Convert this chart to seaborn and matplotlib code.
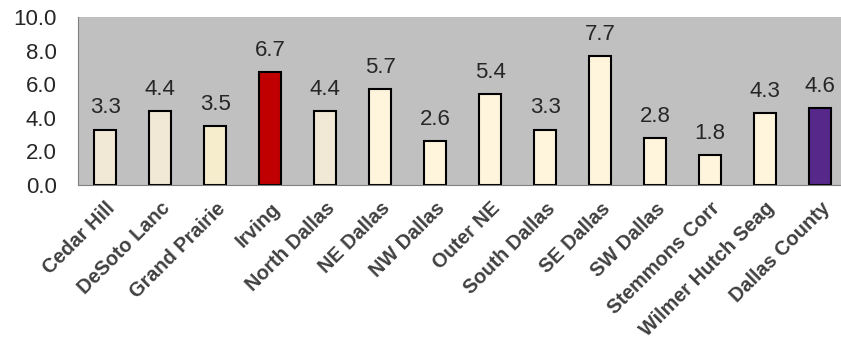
import pandas as pd
import matplotlib.pyplot as plt
import seaborn as sns

# datos
areas = ['Cedar Hill', 'DeSoto Lanc', 'Grand Prairie', 'Irving', 'North Dallas',
         'NE Dallas', 'NW Dallas', 'Outer NE', 'South Dallas', 'SE Dallas',
         'SW Dallas', 'Stemmons Corr', 'Wilmer Hutch Seag', 'Dallas County']
values = [3.3, 4.4, 3.5, 6.7, 4.4, 5.7, 2.6, 5.4, 3.3, 7.7, 2.8, 1.8, 4.3, 4.6]
colors = ['#F1E9D5', '#F1E9D5', '#F5EDCB', '#C00000', '#F1E9D5', '#FFF4DC',
          '#FFF4DC', '#FFF4DC', '#FFF4DC', '#FFF4DC', '#FFF4DC', '#FFF4DC',
          '#FFF4DC', '#562889']

data = pd.DataFrame({'area': areas, 'value': values})

sns.set_style('white')
plt.rcParams['font.family'] = ['Liberation Sans', 'DejaVu Sans']

fig = plt.figure(figsize=(8.41, 3.47), dpi=100)
ax = fig.add_axes([77.7 / 841, 1 - 185 / 347, 770 / 841, 168 / 347])
ax.set_facecolor('#C0C0C0')

sns.barplot(x='area', y='value', data=data, hue='area', palette=colors,
            legend=False, width=0.41, edgecolor='black', linewidth=1.5,
            saturation=1, ax=ax)

# etiquetas de valor
for i, v in enumerate(values):
    ax.annotate(f'{v:.1f}', (i, v), xytext=(0, 8), textcoords='offset points',
                ha='center', va='bottom', fontsize=16)

ax.set_ylim(0, 10)
ax.set_xlim(-0.5, len(areas) - 0.5)
ax.set_yticks([0, 2, 4, 6, 8, 10])
ax.set_yticklabels([f'{t:.1f}' for t in [0, 2, 4, 6, 8, 10]], fontsize=16)
ax.set_xticks([i + 0.5 for i in range(-1, len(areas))], minor=True)
ax.set_xticks(range(len(areas)))
ax.set_xticklabels(areas, rotation=45, ha='right', rotation_mode='anchor',
                   fontsize=14.3, fontweight='bold', color='#404040')
ax.tick_params(axis='x', which='major', length=0, pad=10)
ax.tick_params(axis='x', which='minor', length=5, color='#808080', direction='out')
ax.tick_params(axis='y', length=5, color='#808080', direction='out', pad=10)
ax.set_xlabel('')
ax.set_ylabel('')
for s in ['top', 'right']:
    ax.spines[s].set_visible(False)
for s in ['left', 'bottom']:
    ax.spines[s].set_color('#808080')

fig.savefig('out.png', dpi=100)
